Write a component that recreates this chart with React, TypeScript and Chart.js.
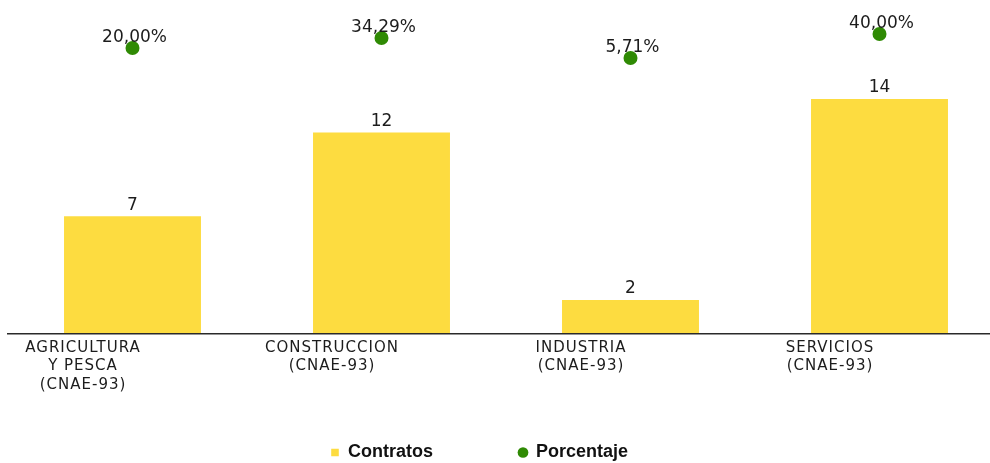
import React, { useEffect, useRef } from "react";
import { Chart, registerables } from "chart.js";

Chart.register(...registerables);

const categories: string[][] = [
  ["AGRICULTURA", "Y PESCA", "(CNAE-93)"],
  ["CONSTRUCCION", "(CNAE-93)"],
  ["INDUSTRIA", "(CNAE-93)"],
  ["SERVICIOS", "(CNAE-93)"],
];
const contratos: number[] = [7, 12, 2, 14];
const porcentaje: number[] = [20.0, 34.29, 5.71, 40.0];

const seriesNames = ["Contratos", "Porcentaje"];

const YELLOW = "#FDDC40";
const GREEN = "#2F8A04";
const TEXT = "#1c1c1c";

const CANVAS_W = 1010;
const CANVAS_H = 463;
const AREA_BOTTOM = 333.5;
const LEGEND_LEFT = 331;
const LEGEND_MID_Y = 452.5;
const LEGEND_GAP = 86;

const valueLabels = {
  id: "valueLabels",
  afterDatasetsDraw(chart: any) {
    const ctx = chart.ctx;
    ctx.save();
    ctx.font = '17px "DejaVu Sans"';
    ctx.fillStyle = TEXT;
    ctx.textAlign = "center";
    ctx.textBaseline = "alphabetic";
    chart.data.datasets.forEach((ds: any, di: number) => {
      const meta = chart.getDatasetMeta(di);
      meta.data.forEach((el: any, i: number) => {
        const v = ds.data[i] as number;
        const txt = di === 0 ? String(v) : v.toFixed(2).replace(".", ",") + "%";
        const x = di === 0 ? el.x : el.x + 2;
        ctx.fillText(txt, x, el.y - 6.5);
      });
    });
    ctx.restore();
    // letter spacing for the x tick labels drawn after datasets (z = 1)
    ctx.letterSpacing = "1px";
  },
  afterDraw(chart: any) {
    chart.ctx.letterSpacing = "0px";
  },
};

const legendPlacer = {
  id: "legendPlacer",
  afterLayout(chart: any) {
    const lg = chart.legend;
    if (!lg) return;
    const pad = lg.options.labels.padding;
    const w = lg.width;
    lg.left = LEGEND_LEFT - pad;
    lg.right = lg.left + w;
    lg.top = LEGEND_MID_Y - 9 - pad;
    lg.bottom = CANVAS_H;
    lg.height = lg.bottom - lg.top;
  },
};

export default function App() {
  const ref = useRef<HTMLCanvasElement | null>(null);

  useEffect(() => {
    if (!ref.current) return;
    const chart = new Chart(ref.current, {
      type: "bar",
      data: {
        labels: categories,
        datasets: [
          {
            type: "bar",
            label: seriesNames[0],
            data: contratos,
            backgroundColor: YELLOW,
            borderWidth: 0,
            barPercentage: 0.55,
            categoryPercentage: 1,
            yAxisID: "y",
            pointStyle: "rect",
          } as any,
          {
            type: "line",
            label: seriesNames[1],
            data: porcentaje,
            showLine: false,
            borderColor: GREEN,
            backgroundColor: GREEN,
            pointBackgroundColor: GREEN,
            pointBorderColor: GREEN,
            pointBorderWidth: 0,
            pointRadius: 7,
            pointStyle: "circle",
            yAxisID: "y2",
            clip: false,
          } as any,
        ],
      },
      options: {
        responsive: false,
        animation: false,
        devicePixelRatio: 1,
        layout: {
          autoPadding: false,
          padding: { left: 8, right: CANVAS_W - 1004, top: 0, bottom: 0 },
        },
        plugins: {
          tooltip: { enabled: false },
          legend: {
            display: true,
            position: "bottom",
            align: "start",
            maxHeight: 20,
            labels: {
              usePointStyle: true,
              boxWidth: 8,
              boxHeight: 7.6,
              padding: LEGEND_GAP,
              color: "#111",
              font: { family: '"Liberation Sans", Arial, sans-serif', size: 18, weight: "bold" },
            },
          } as any,
        },
        scales: {
          x: {
            offset: true,
            grid: { display: false, drawTicks: false },
            border: { display: true, color: "#2a2a2a", width: 1.6, z: 1 },
            ticks: {
              z: 1,
              autoSkip: false,
              maxRotation: 0,
              minRotation: 0,
              padding: 5,
              labelOffset: -49.5,
              color: TEXT,
              font: { family: '"DejaVu Sans"', size: 15, lineHeight: 18.5 / 15 },
            },
            afterFit: (s: any) => {
              const lgH = s.chart.legend ? s.chart.legend.height : 0;
              s.height = CANVAS_H - AREA_BOTTOM - lgH;
            },
          },
          y: {
            display: false,
            min: 0,
            max: 19.9,
          },
          y2: {
            display: false,
            min: -388,
            max: 88.6,
          },
        },
      },
      plugins: [valueLabels, legendPlacer],
    });
    return () => chart.destroy();
  }, []);

  return (
    <div
      style={{
        position: "absolute",
        left: 0,
        top: 0,
        width: 990,
        height: 463,
        overflow: "hidden",
        background: "#fff",
      }}
    >
      <canvas ref={ref} width={CANVAS_W} height={CANVAS_H} style={{ display: "block" }} />
    </div>
  );
}
